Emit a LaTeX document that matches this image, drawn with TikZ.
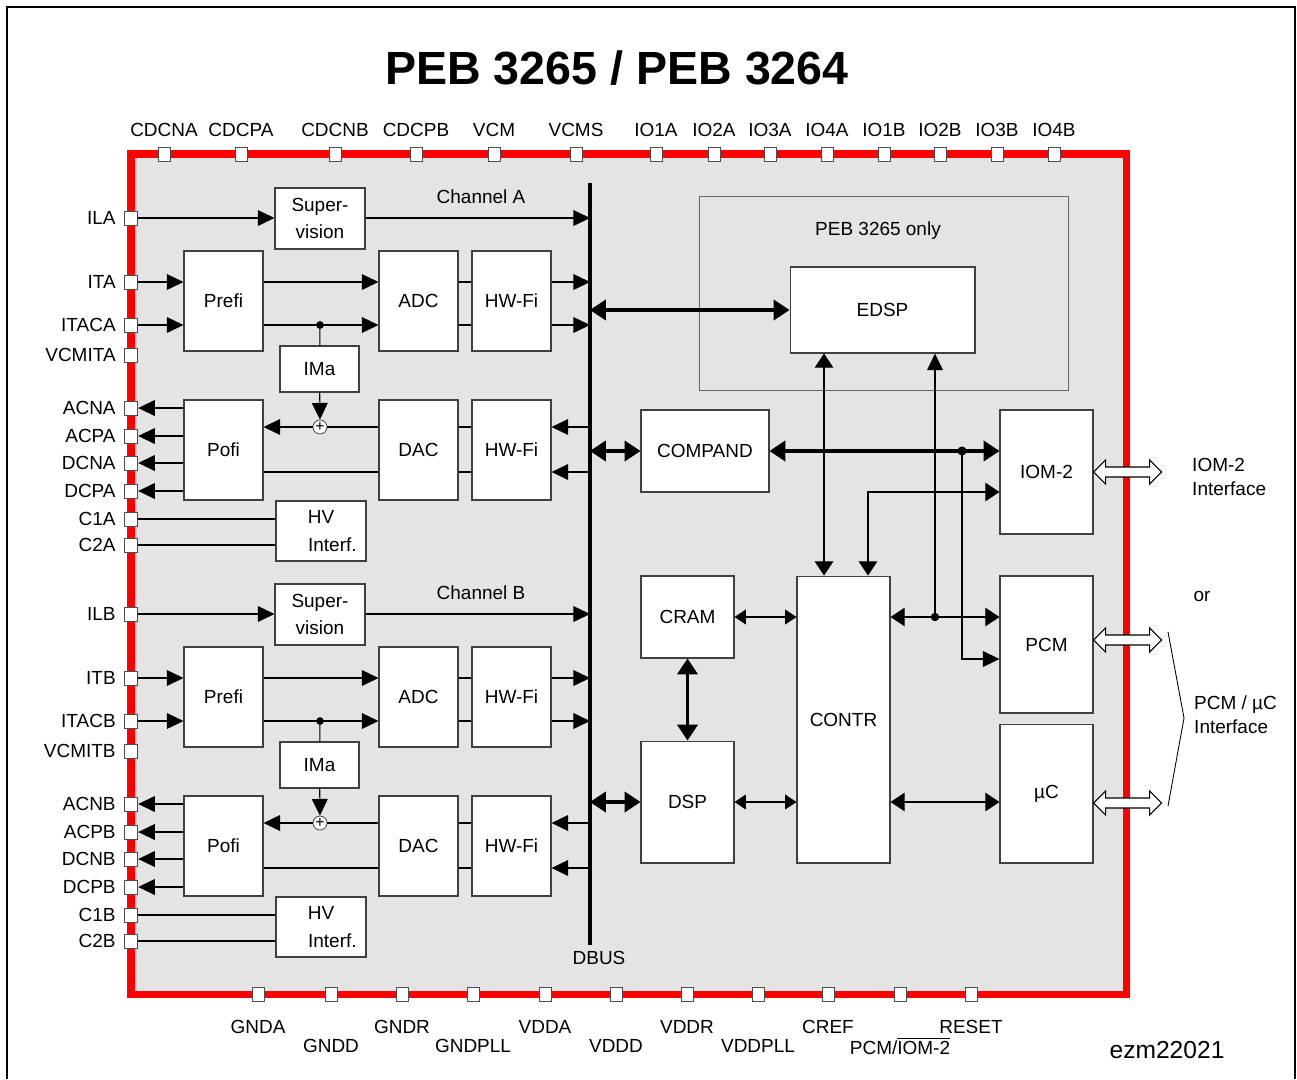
\documentclass[tikz,border=0pt]{standalone}
\usepackage{fontspec}
\setmainfont{Liberation Sans}
\usetikzlibrary{arrows.meta,positioning,calc}
\definecolor{chipgray}{gray}{0.895}

\begin{document}
\begin{tikzpicture}[x=0.02cm, y=-0.02cm, every node/.style={font=\fontsize{10.8}{13.6}\selectfont}]
\tikzset{blk/.style={draw=black!75, fill=white, align=center, inner sep=0pt, line width=0.6pt, font=\fontsize{10.8}{15.5}\selectfont}}
\tikzset{pin/.style={draw=black!70, fill=white, minimum width=0.27cm, minimum height=0.28cm, inner sep=0pt, line width=0.5pt}}
\tikzset{tpin/.style={pin, minimum width=0.24cm}}
\tikzset{sumc/.style={circle, draw=black!80, fill=white, minimum size=0.28cm, inner sep=0pt, font=\fontsize{9}{9}\selectfont}}
\tikzset{wire/.style={line width=0.6pt, black}}
\tikzset{arr/.style={wire, -{Triangle[length=9.5pt,width=9pt]}}}
\tikzset{arrd/.style={wire, {Triangle[length=6.5pt,width=8.5pt]}-{Triangle[length=6.5pt,width=8.5pt]}}}
\tikzset{arrD/.style={wire, {Triangle[length=8pt,width=10.5pt]}-{Triangle[length=8pt,width=10.5pt]}}}
\tikzset{bus/.style={line width=1.8pt, {Triangle[length=9pt,width=11.5pt]}-{Triangle[length=9pt,width=11.5pt]}}}
\tikzset{hollow/.style={draw=black, fill=white, line width=0.6pt}}
\useasboundingbox (0,0) rectangle (1297,1079);
\draw[line width=1.6pt] (7,1079) -- (7,7) -- (1295,7) -- (1295,1079);
\node[font=\fontsize{26.5}{30}\selectfont\bfseries] (title) at (617,68) {PEB 3265 / PEB 3264};
% chip
\draw[red, line width=4pt, fill=chipgray] (131,154) rectangle (1126,994);
\foreach \x/\t in {164/CDCNA, 241/CDCPA, 335/CDCNB, 416/CDCPB, 494/VCM, 576/VCMS, 656/IO1A, 714/IO2A, 770/IO3A, 827/IO4A, 884/IO1B, 940/IO2B, 997/IO3B, 1054/IO4B}{
  \node[tpin] (t\t) at (\x,154) {};
  \node (lt\t) at (\x,130) {\t};
}
\foreach \x/\y/\t [count=\i] in {258/1027/GNDA, 331/1046/GNDD, 402/1027/GNDR, 473/1046/GNDPLL, 545/1027/VDDA, 616/1046/VDDD, 687/1027/VDDR, 758/1046/VDDPLL, 828/1027/CREF, 900/1046/{PCM/$\overline{\mbox{IOM-2}}$}, 971/1027/RESET}{
  \node[tpin] (b\i) at (\x,994) {};
  \node (lb\i) at (\x,\y) {\t};
}
\node (code) at (1167,1050) {\fontsize{14}{16}\selectfont ezm22021};
% data bus
\coordinate (busT) at (590,183);
\coordinate (busB) at (590,945);
\draw[line width=2.2pt] (busT) -- (busB);
\node (dbus) at (599,958) {DBUS};
% analog channels A and B
\foreach \c/\o in {A/0, B/396}{
  \foreach \n/\y in {IL/218, IT/282, ITAC/325, VCMIT/355, ACN/408, ACP/436, DCN/463, DCP/491, C1/519, C2/545}{
    \node[pin] (p\n\c) at (131,\y+\o) {};
    \node[anchor=east, inner sep=0pt] (l\n\c) at (116,\y+\o) {\n\c};
  }
  \node[blk, minimum width=1.8cm, minimum height=1.22cm] (sup\c) at (320,218.5+\o) {Super-\\vision};
  \node[blk, minimum width=1.58cm, minimum height=2cm] (pre\c) at (223.5,301+\o) {Prefi};
  \node[blk, minimum width=1.58cm, minimum height=2cm] (adc\c) at (418.5,301+\o) {ADC};
  \node[blk, minimum width=1.58cm, minimum height=2cm] (hwa\c) at (511.5,301+\o) {HW-Fi};
  \node[blk, minimum width=1.58cm, minimum height=0.92cm] (ima\c) at (319.5,369+\o) {IMa};
  \node[blk, minimum width=1.58cm, minimum height=2cm] (pof\c) at (223.5,450+\o) {Pofi};
  \node[blk, minimum width=1.58cm, minimum height=2cm] (dac\c) at (418.5,450+\o) {DAC};
  \node[blk, minimum width=1.58cm, minimum height=2cm] (hwb\c) at (511.5,450+\o) {HW-Fi};
  \node[blk, minimum width=1.8cm, minimum height=1.2cm] (hv\c) at (321,531+\o) {HV\\\hspace{1.2em}Interf.};
  \node[sumc] (sum\c) at (320,427+\o) {+};
  \node (ch\c) at (481,197+\o) {Channel \c};
  \coordinate (lo\c) at ([yshift=-0.44cm]dac\c.west);
  \draw[arr] (pIL\c) -- (sup\c.west |- pIL\c);
  \draw[arr] (sup\c.east |- pIL\c) -- (busT |- pIL\c);
  \foreach \n in {IT, ITAC}{
    \draw[arr] (p\n\c) -- (pre\c.west |- p\n\c);
    \draw[arr] (pre\c.east |- p\n\c) -- (adc\c.west |- p\n\c);
    \draw[wire] (adc\c.east |- p\n\c) -- (hwa\c.west |- p\n\c);
    \draw[arr] (hwa\c.east |- p\n\c) -- (busT |- p\n\c);
  }
  \coordinate (j\c) at (320,325+\o);
  \fill (j\c) circle (2.2pt);
  \draw[wire] (j\c) -- (ima\c);
  \draw[arr] (ima\c) -- (sum\c);
  \draw[wire] (dac\c.west |- sum\c) -- (sum\c);
  \draw[arr] (sum\c) -- (pof\c.east |- sum\c);
  \draw[wire] (lo\c) -- (pof\c.east |- lo\c);
  \draw[wire] (dac\c.east |- sum\c) -- (hwb\c.west |- sum\c);
  \draw[wire] (dac\c.east |- lo\c) -- (hwb\c.west |- lo\c);
  \draw[arr] (busT |- sum\c) -- (hwb\c.east |- sum\c);
  \draw[arr] (busT |- lo\c) -- (hwb\c.east |- lo\c);
  \foreach \n in {ACN, ACP, DCN, DCP}
    \draw[arr] (pof\c.west |- p\n\c) -- (p\n\c);
  \draw[wire] (pC1\c) -- (hv\c.west |- pC1\c);
  \draw[wire] (pC2\c) -- (hv\c.west |- pC2\c);
}
% digital part
\node[draw=black!60, line width=0.5pt, minimum width=7.38cm, minimum height=3.88cm, inner sep=0pt] (only) at (883.5,293) {};
\node (onlyl) at (878,231) {PEB 3265 only};
\node[blk, minimum width=3.7cm, minimum height=1.72cm] (edsp) at (882.5,310) {EDSP};
\node[blk, minimum width=2.56cm, minimum height=1.64cm] (compand) at (705,451) {COMPAND};
\node[blk, minimum width=1.86cm, minimum height=2.48cm] (iom) at (1046.5,472) {IOM-2};
\node[blk, minimum width=1.86cm, minimum height=1.64cm] (cram) at (687.5,617) {CRAM};
\node[blk, minimum width=1.86cm, minimum height=2.44cm] (dsp) at (687.5,802) {DSP};
\node[blk, minimum width=1.86cm, minimum height=5.74cm] (contr) at (843.5,719.5) {CONTR};
\node[blk, minimum width=1.86cm, minimum height=2.74cm] (pcm) at (1046.5,644.5) {PCM};
\node[blk, minimum width=1.86cm, minimum height=2.78cm] (uc) at (1046.5,793.5) {µC};
\draw[bus] (busT |- edsp.west) -- (edsp.west);
\draw[bus] (busT |- compand.west) -- (compand.west);
\draw[bus] (compand.east) -- (iom.west |- compand.east);
\draw[bus] (busT |- dsp.west) -- (dsp.west);
\draw[bus] (cram) -- (dsp);
\draw[arrd] (cram) -- (contr.west |- cram);
\draw[arrd] (dsp) -- (contr.west |- dsp);
\draw[arrD] (contr.east |- dsp) -- (uc.west |- dsp);
\draw[arrD] (contr.east |- cram) -- (pcm.west |- cram);
\draw[arrD] ([xshift=-0.39cm]contr.north) -- ([xshift=-0.39cm]contr.north |- edsp.south);
\draw[arrD] ([yshift=-0.4cm]iom.west) -| ([xshift=0.49cm]contr.north);
\coordinate (jp) at (935,617);
\fill (jp) circle (2.4pt);
\draw[arr] (jp) -- (jp |- edsp.south);
\coordinate (jc) at (962,451);
\fill (jc) circle (2.6pt);
\draw[arr, line width=1pt] (jc) |- ([yshift=-0.29cm]pcm.west);
% external interfaces
\foreach \p/\s in {iom/0, pcm/0.09, uc/-0.19}
  \draw[hollow] ([yshift=\s cm]\p.east) -- ++(12,-12) -- ++(0,7) -- ++(44,0) -- ++(0,-7) -- ++(12,12)
    -- ++(-12,12) -- ++(0,-7) -- ++(-44,0) -- ++(0,7) -- cycle;
\draw[line width=0.5pt] (1168,632) -- (1184,718) -- (1168,806);
\node[anchor=west, align=left] (iomif) at (1186,477) {IOM-2\\Interface};
\node (or) at (1202,596) {or};
\node[anchor=west, align=left] (pcmif) at (1188,715) {PCM / µC\\Interface};
\end{tikzpicture}
\end{document}
